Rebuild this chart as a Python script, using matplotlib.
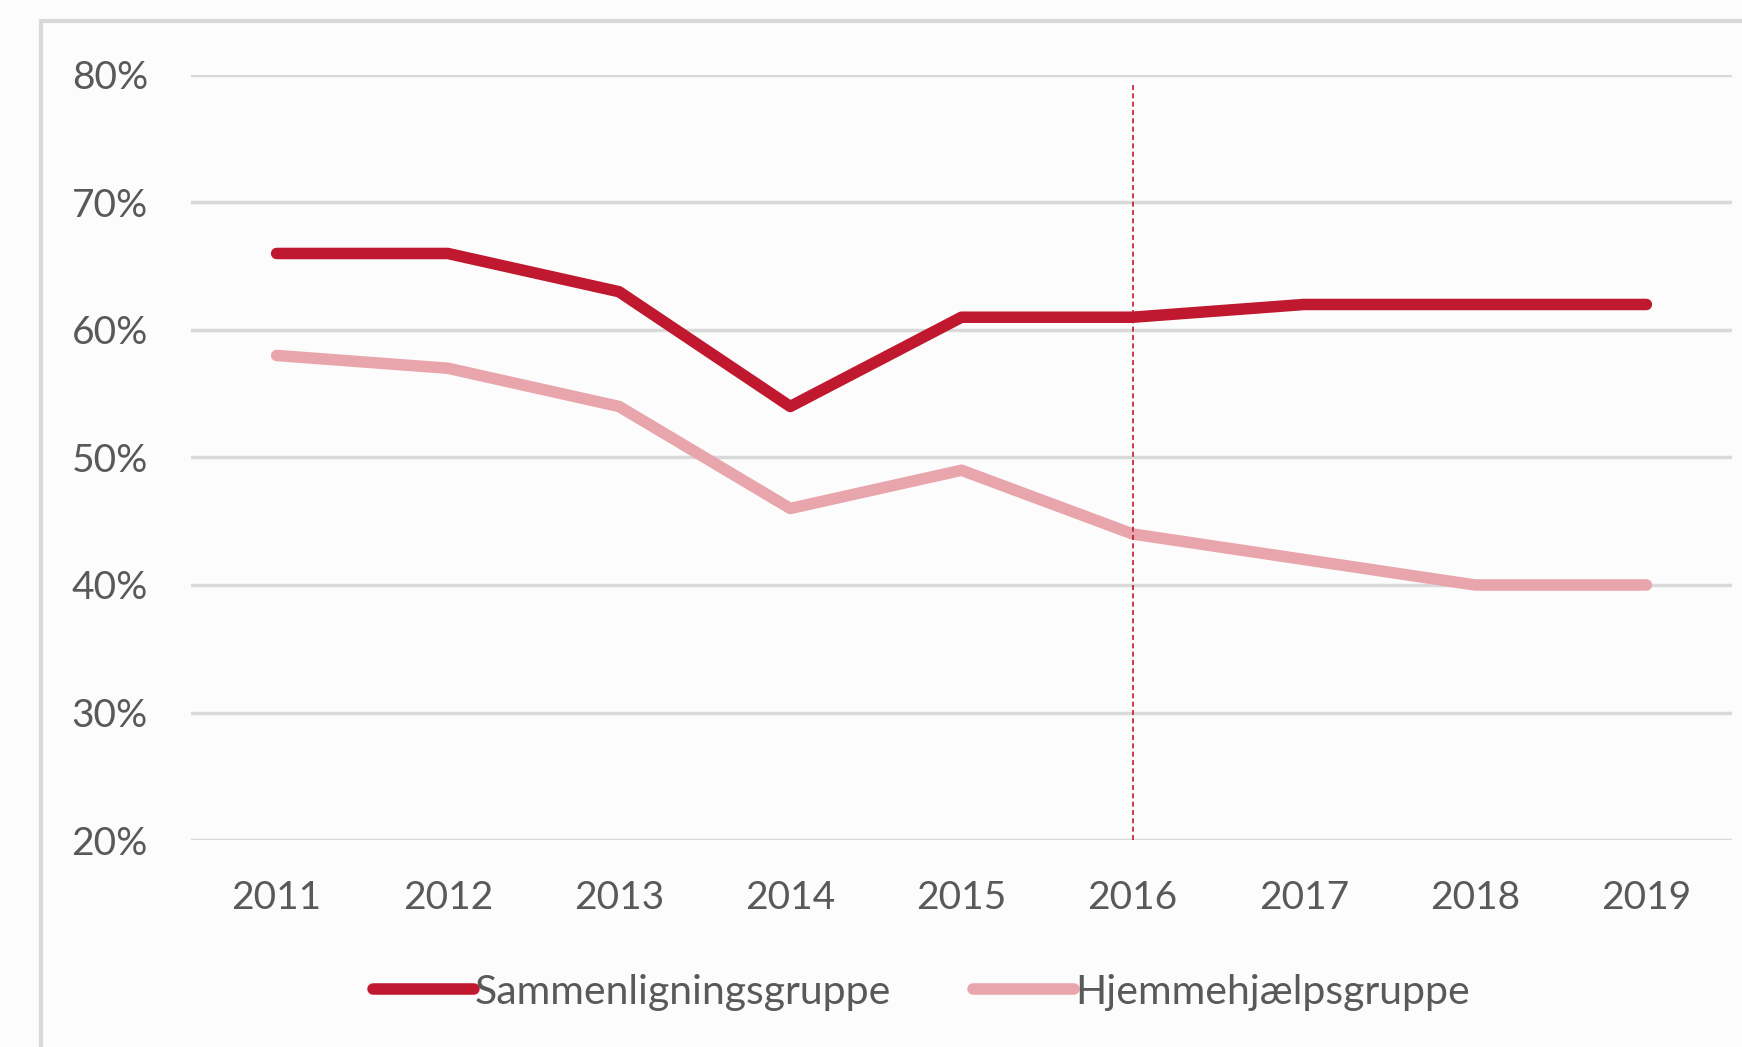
"""
plot.py

Andel over tid: Sammenligningsgruppe vs Hjemmehjælpsgruppe.
"""

import matplotlib
matplotlib.use("Agg")
import matplotlib.pyplot as plt
from matplotlib.patches import Rectangle
from matplotlib.ticker import PercentFormatter

# Data
years = ["2011", "2012", "2013", "2014", "2015", "2016", "2017", "2018", "2019"]
sammenligning = [0.66, 0.66, 0.63, 0.54, 0.61, 0.61, 0.62, 0.62, 0.62]
hjemmehjaelp = [0.58, 0.57, 0.54, 0.46, 0.49, 0.44, 0.42, 0.40, 0.40]
y_ticks = [0.2, 0.3, 0.4, 0.5, 0.6, 0.7, 0.8]
marker_year = "2016"

RED = "#C0192F"
PINK = "#E8A5AC"
GRID = "#D9D9D9"
TEXT = "#595959"

plt.rcParams["font.family"] = ["Lato", "DejaVu Sans"]

fig = plt.figure(figsize=(17.42, 10.47), dpi=100)
fig.patch.set_facecolor("#FCFCFC")

# Chart area frame (cropped at right and bottom)
fig.patches.append(Rectangle(
    (41 / 1742, -0.1), 1.2, 1.1 - 21 / 1047,
    transform=fig.transFigure, fill=False,
    edgecolor=GRID, linewidth=3
))

ax = fig.add_axes([191 / 1742, 0.1977, (1732 - 191) / 1742, 0.9284 - 0.1977])
ax.set_facecolor("none")

x = list(range(len(years)))

ax.plot(x, sammenligning, color=RED, linewidth=8.3,
        solid_capstyle="round", solid_joinstyle="round",
        label="Sammenligningsgruppe", zorder=3)
ax.plot(x, hjemmehjaelp, color=PINK, linewidth=8.3,
        solid_capstyle="round", solid_joinstyle="round",
        label="Hjemmehjælpsgruppe", zorder=3)

# Vertical marker line
ax.axvline(years.index(marker_year), ymin=0, ymax=0.99, color=RED,
           linewidth=1.2, dashes=(3, 2), zorder=4)

ax.set_xlim(-0.5, len(years) - 0.5)
ax.set_ylim(0.2, 0.8)
ax.set_xticks(x)
ax.set_xticklabels(years)
ax.set_yticks(y_ticks)
ax.yaxis.set_major_formatter(PercentFormatter(1.0, decimals=0))

ax.grid(True, axis="y", color=GRID, linewidth=2.5)
ax.set_axisbelow(True)
for s in ax.spines.values():
    s.set_visible(False)

ax.tick_params(axis="both", length=0, labelsize=28, labelcolor=TEXT)
ax.tick_params(axis="y", pad=31)
ax.tick_params(axis="x", pad=28.5)

fig.legend(
    loc="center", bbox_to_anchor=(0.529, 0.0525), ncol=2, frameon=False,
    fontsize=29.5, labelcolor=TEXT, handlelength=2.45, handletextpad=0.03,
    columnspacing=2.0
)

plt.savefig("out.png", dpi=100, facecolor=fig.get_facecolor())
plt.close()
